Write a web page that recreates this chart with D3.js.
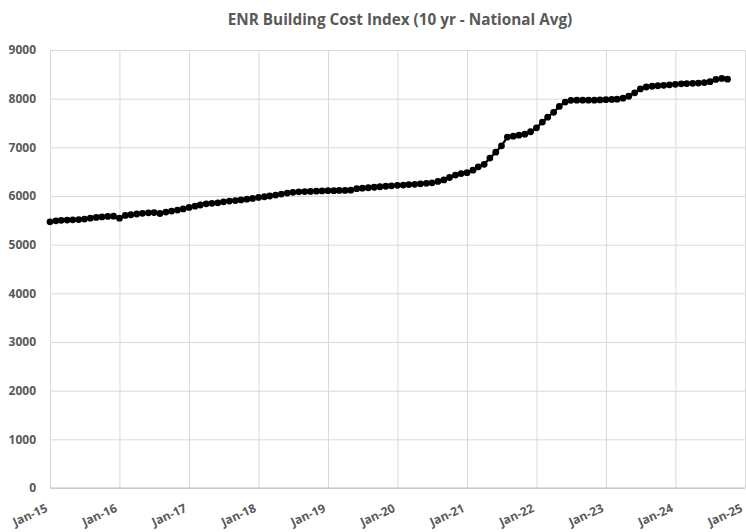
<!DOCTYPE html>
<html lang="en">
<head>
<meta charset="UTF-8">
<title>ENR Building Cost Index</title>
<script src="https://cdn.jsdelivr.net/npm/d3@7"></script>
<style>
    body { margin: 0; background: white; }
    svg { display: block; }
    .tick text { font-family: "Open Sans", sans-serif; font-weight: bold; fill: #595959; }
</style>
</head>
<body>
<svg id="chart" width="746" height="532"></svg>
<script>
// monthly index values, Jan-2015 onward
const startMonth = new Date(2015, 0, 1);
const values2015 = [5470, 5490, 5500, 5505, 5510, 5515, 5525, 5545, 5560, 5570, 5580, 5585];
const values2016 = [5545, 5600, 5615, 5630, 5645, 5655, 5660, 5640, 5670, 5690, 5710, 5735];
const values2017 = [5766, 5790, 5815, 5840, 5850, 5860, 5880, 5895, 5905, 5920, 5935, 5950];
const values2018 = [5970, 5985, 6000, 6020, 6040, 6060, 6075, 6085, 6090, 6095, 6100, 6105];
const values2019 = [6110, 6110, 6115, 6115, 6120, 6150, 6160, 6170, 6180, 6190, 6200, 6210];
const values2020 = [6220, 6225, 6235, 6240, 6250, 6260, 6270, 6300, 6330, 6380, 6430, 6460];
const values2021 = [6480, 6530, 6600, 6650, 6780, 6900, 7030, 7210, 7230, 7250, 7270, 7320];
const values2022 = [7400, 7520, 7620, 7720, 7840, 7930, 7965, 7970, 7970, 7970, 7970, 7975];
const values2023 = [7980, 7985, 7990, 8010, 8050, 8120, 8200, 8240, 8255, 8265, 8275, 8285];
const values2024 = [8295, 8305, 8310, 8315, 8320, 8330, 8350, 8395, 8415, 8400];

const yTicks = [0, 1000, 2000, 3000, 4000, 5000, 6000, 7000, 8000, 9000];
const xTickYears = [2015, 2016, 2017, 2018, 2019, 2020, 2021, 2022, 2023, 2024, 2025];
const title = "ENR Building Cost Index (10 yr - National Avg)";

const allValues = [].concat(values2015, values2016, values2017, values2018, values2019,
    values2020, values2021, values2022, values2023, values2024);
const data = allValues.map((v, i) => ({
    date: new Date(startMonth.getFullYear(), startMonth.getMonth() + i, 1),
    value: v
}));

const svg = d3.select('#chart');
const plotLeft = 50, plotRight = 745, plotTop = 50, plotBottom = 488;

const x = d3.scaleTime()
    .domain([new Date(2015, 0, 1), new Date(2025, 0, 1)])
    .range([plotLeft, plotRight]);
const y = d3.scaleLinear()
    .domain([0, 9000])
    .range([plotBottom, plotTop]);

// title
svg.append("text")
    .attr("x", 400)
    .attr("y", 25)
    .attr("text-anchor", "middle")
    .style("font-family", "'Open Sans', sans-serif")
    .style("font-weight", "bold")
    .style("font-size", "15.3px")
    .attr("fill", "#595959")
    .text(title);

// y gridlines + labels
const yAxis = svg.append("g")
    .attr("transform", `translate(${plotLeft},0)`)
    .call(d3.axisLeft(y).tickValues(yTicks).tickSize(-(plotRight - plotLeft)).tickPadding(14).tickFormat(d3.format("d")));
yAxis.select(".domain").remove();
yAxis.selectAll(".tick line").attr("stroke", "#d9d9d9").attr("stroke-width", 1);
yAxis.selectAll(".tick text").style("font-size", "12px");

// x gridlines + labels
const xAxis = svg.append("g")
    .attr("transform", `translate(0,${plotBottom})`)
    .call(d3.axisBottom(x)
        .tickValues(xTickYears.map(yr => new Date(yr, 0, 1)))
        .tickSize(-(plotBottom - plotTop))
        .tickFormat(d3.timeFormat("%b-%y")));
xAxis.select(".domain").remove();
xAxis.selectAll(".tick line").attr("stroke", "#d9d9d9").attr("stroke-width", 1);
xAxis.selectAll(".tick text")
    .style("font-size", "12px")
    .attr("text-anchor", "end")
    .attr("dy", null)
    .attr("y", 0)
    .attr("transform", "translate(-2,23) rotate(-25)");

// bottom axis line on top of grid
svg.append("line")
    .attr("x1", plotLeft).attr("x2", plotRight)
    .attr("y1", plotBottom).attr("y2", plotBottom)
    .attr("stroke", "#bfbfbf");

// series line + markers
const line = d3.line()
    .x(d => x(d.date))
    .y(d => y(d.value));

svg.append("path")
    .datum(data)
    .attr("fill", "none")
    .attr("stroke", "black")
    .attr("stroke-width", 2.25)
    .attr("d", line);

svg.selectAll("circle.pt")
    .data(data)
    .enter()
    .append("circle")
    .attr("class", "pt")
    .attr("cx", d => x(d.date))
    .attr("cy", d => y(d.value))
    .attr("r", 3.4)
    .attr("fill", "black");
</script>
</body>
</html>
